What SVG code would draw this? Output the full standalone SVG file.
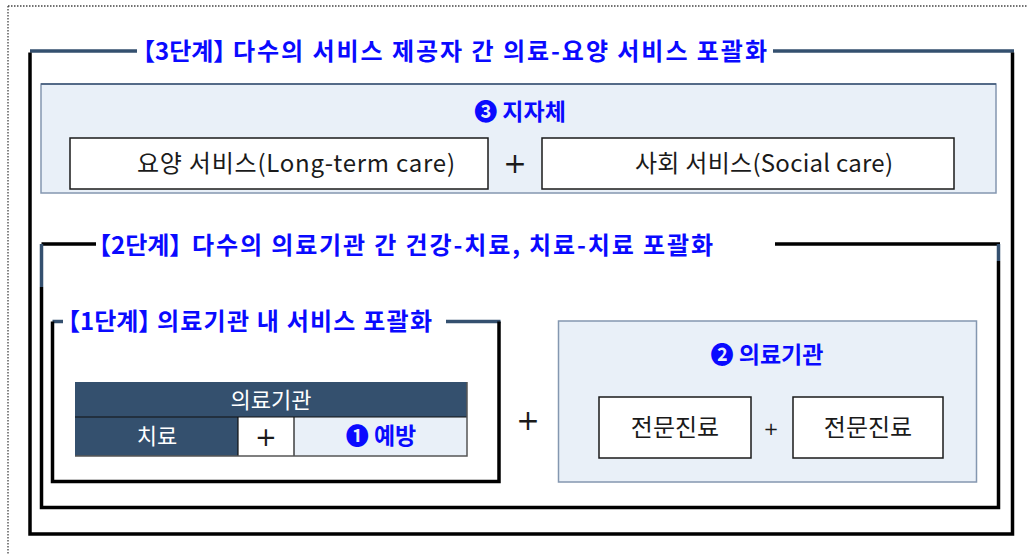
<svg xmlns="http://www.w3.org/2000/svg" width="1027" height="554" viewBox="0 0 1027 554">
<style>
.title{font-family:"Noto Sans CJK KR","Noto Sans",sans-serif;font-weight:700;font-size:24px;fill:#0a0aff}
.head{font-family:"Noto Sans CJK KR","Noto Sans",sans-serif;font-weight:700;font-size:23px;fill:#0a0aff;text-anchor:middle}
.txt{font-family:"Noto Sans CJK KR","Noto Sans",sans-serif;font-weight:400;font-size:24px;fill:#1a1a1a;text-anchor:middle}
.wtxt{font-family:"Noto Sans CJK KR","Noto Sans",sans-serif;font-weight:400;font-size:22px;fill:#ffffff;text-anchor:middle}
.plus{font-family:"DejaVu Sans",sans-serif;font-weight:400;fill:#1a1a1a;text-anchor:middle}
.blk{stroke:#000;stroke-width:3.5;fill:none}
.slate{stroke:#34506f;stroke-width:3.5;fill:none}
.panel{fill:#e9f0f8;stroke:#8497b0;stroke-width:1.5}
.wbox{fill:#ffffff;stroke:#1a1a1a;stroke-width:1.5}
</style>
<rect width="1027" height="554" fill="#ffffff"/>
<g id="frame">
<path d="M8 6 H1027 M8 6 V554" stroke="#444" stroke-width="1.3" stroke-dasharray="1.5 1.5" fill="none"/>
</g>
<g id="stage3">
<path class="slate" d="M30 51 H137 M773 51 H1014"/>
<path class="blk" d="M30 52.5 V534 H1012.5 V52.5"/>
<text class="title" y="59.5"><tspan x="131">【3단계】</tspan><tspan x="233" textLength="534" lengthAdjust="spacing">다수의 서비스 제공자 간 의료-요양 서비스 포괄화</tspan></text>
</g>
<g id="local-gov">
<rect class="panel" x="41" y="84" width="955" height="109"/>
<line x1="41" y1="84" x2="996" y2="84" stroke="#3b5575" stroke-width="1.5"/>
<text class="head" x="520" y="120">❸ 지자체</text>
</g>
<g id="long-term-care">
<rect class="wbox" x="70" y="138" width="418" height="51"/>
<text class="txt" x="296" y="172" textLength="318" lengthAdjust="spacing">요양 서비스(Long-term care)</text>
</g>
<g id="social-care">
<rect class="wbox" x="542" y="138" width="412" height="51"/>
<text class="txt" x="764" y="172" textLength="258" lengthAdjust="spacing">사회 서비스(Social care)</text>
</g>
<g id="stage2">
<path class="blk" d="M41.5 244 H96 M775 244 H1000"/>
<path stroke="#34506f" stroke-width="3.5" fill="none" d="M41.5 244 V287 M998.5 244 V261"/>
<path class="blk" d="M41.5 287 V507.5 H998.5 V261"/>
<text class="title" y="253.5"><tspan x="87">【2단계】</tspan><tspan x="192" textLength="521" lengthAdjust="spacing">다수의 의료기관 간 건강-치료, 치료-치료 포괄화</tspan></text>
</g>
<g id="stage1">
<path class="slate" d="M52.5 321.5 H63 M446 321.5 H500.5"/>
<path class="blk" d="M52.5 321.5 V481.5 H499 V321.5"/>
<text class="title" y="330"><tspan x="56">【1단계】</tspan><tspan x="157" textLength="275" lengthAdjust="spacing">의료기관 내 서비스 포괄화</tspan></text>
</g>
<g id="hospital-table">
<rect x="75" y="382" width="392" height="35" fill="#34506e"/>
<rect x="75" y="417" width="163" height="39" fill="#34506e"/>
<rect x="238" y="417" width="56" height="39" fill="#ffffff"/>
<rect x="294" y="417" width="173" height="39" fill="#e9f0f8"/>
<path d="M75 417 H467 M238 417 V456 M294 417 V456" stroke="#111" stroke-width="1.2" fill="none"/>
<path d="M75 456 H467 V382" stroke="#555" stroke-width="1.5" fill="none"/>
<text class="wtxt" x="271" y="408">의료기관</text>
<text class="wtxt" x="157" y="444">치료</text>
<text class="plus" x="266" y="446" font-size="26">+</text>
<text class="head" x="381" y="444">❶ 예방</text>
</g>
<g id="hospital-2">
<rect class="panel" x="558.5" y="321" width="418" height="161"/>
<text class="head" x="767" y="363">❷ 의료기관</text>
</g>
<g id="specialist-1">
<rect class="wbox" x="599" y="397" width="152" height="61"/>
<text class="txt" x="675" y="436">전문진료</text>
</g>
<g id="specialist-2">
<rect class="wbox" x="793" y="397" width="150" height="61"/>
<text class="txt" x="868" y="436">전문진료</text>
</g>
<g id="connectors">
<text class="plus" x="515" y="173" font-size="28">+</text>
<text class="plus" x="528" y="430" font-size="28">+</text>
<text class="plus" x="771" y="435" font-size="18">+</text>
</g>
</svg>
